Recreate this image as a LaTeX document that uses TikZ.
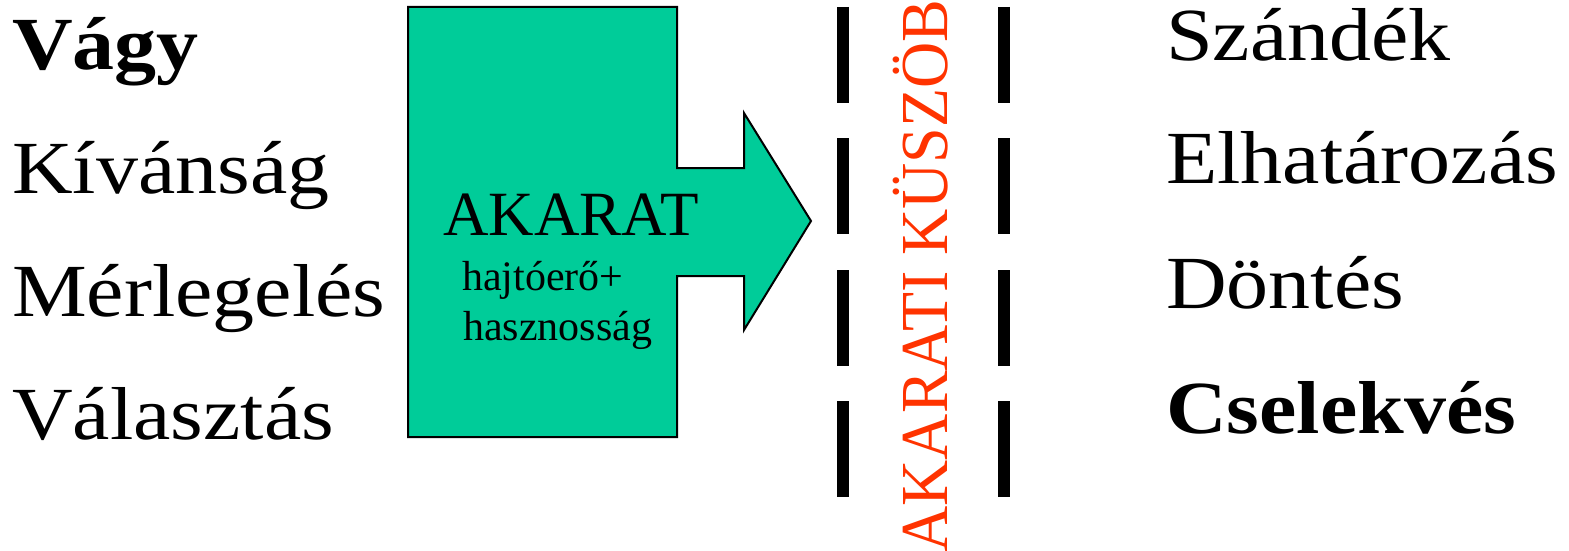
\documentclass[tikz,border=0pt]{standalone}
\usepackage{fontspec}
\usepackage{graphicx}
\setmainfont{Liberation Serif}
\definecolor{akgreen}{HTML}{00CC99}
\definecolor{akred}{HTML}{FF3300}
\newcommand\stretchx[1]{\scalebox{1.12}[1]{#1}}
\tikzset{
  sidetxt/.style={anchor=base west, inner sep=0pt, font=\fontsize{75}{90}\selectfont},
  midbig/.style={anchor=base west, inner sep=0pt, font=\fontsize{63}{75}\selectfont},
  midsmall/.style={anchor=base west, inner sep=0pt, font=\fontsize{42}{50}\selectfont},
  bar/.style={line width=12pt, black},
  arrowbody/.style={fill=akgreen, draw=black, line width=2pt, line join=miter}
}
\begin{document}
\begin{tikzpicture}[x=1pt,y=-1pt]
\useasboundingbox (0,0) rectangle (1569,551);
% left column
\node[sidetxt] (vagy) at (12,70) {\stretchx{\bfseries Vágy}};
\node[sidetxt] (kiv) at (12,193) {\stretchx{Kívánság}};
\node[sidetxt] (merl) at (12,316) {\stretchx{Mérlegelés}};
\node[sidetxt] (val) at (12,439) {\stretchx{Választás}};
% arrow
\path[arrowbody] (408,7) -- (677,7) -- (677,168) -- (744,168) -- (744,113)
  -- (811,221) -- (744,330) -- (744,276) -- (677,276) -- (677,437)
  -- (408,437) -- cycle;
\node[midbig] (akarat) at (443,235) {AKARAT};
\node[midsmall] (hajt) at (462,290) {hajtóerő+};
\node[midsmall] (hasz) at (463,340) {hasznosság};
% threshold bars
\foreach \y in {7,138,270,401} {
  \draw[bar] (843,\y) -- (843,\y+96);
  \draw[bar] (1004,\y) -- (1004,\y+96);
}
\node[anchor=east, inner sep=0pt, text=akred, font=\fontsize{64}{76}\selectfont] (kuszob) at (948,276)
  {\scalebox{1.05}[1]{\rotatebox{90}{AKARATI KÜSZÖB}}};
% right column
\node[sidetxt] (szand) at (1166,60) {\stretchx{Szándék}};
\node[sidetxt] (elhat) at (1166,183) {\stretchx{Elhatározás}};
\node[sidetxt] (dont) at (1166,308) {\stretchx{Döntés}};
\node[sidetxt] (csel) at (1166,433) {\stretchx{\bfseries Cselekvés}};
\end{tikzpicture}
\end{document}
